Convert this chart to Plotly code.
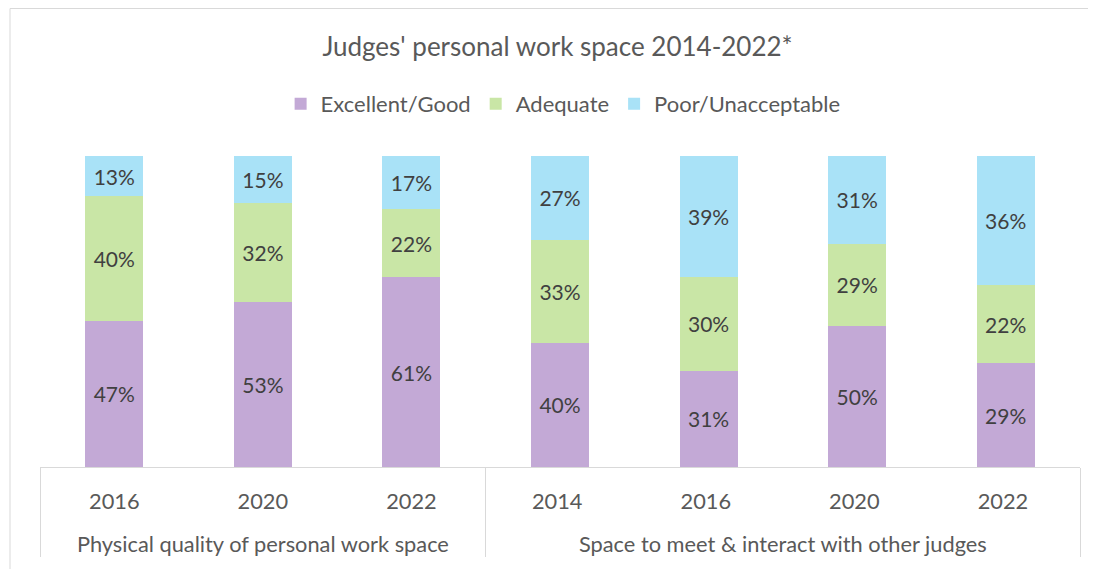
import plotly.graph_objects as go

# data
group_names = ["Physical quality of personal work space", "Space to meet & interact with other judges"]
group_years = [["2016", "2020", "2022"], ["2014", "2016", "2020", "2022"]]

excellent_good = [47, 53, 61, 40, 31, 50, 29]
adequate = [40, 32, 22, 33, 30, 29, 22]
poor_unacceptable = [13, 15, 17, 27, 39, 31, 36]

series_names = ["Excellent/Good", "Adequate", "Poor/Unacceptable"]
series_colors = ["#C3A9D6", "#C9E6A6", "#A9E2F7"]

FONT = "Lato, Open Sans, sans-serif"
TXT = "#595959"

# multicategory x: plotly orders the inner level by first appearance, so the
# second group's years get a trailing space to keep 2014 first inside that group
outer, inner = [], []
for gi, (g, ys) in enumerate(zip(group_names, group_years)):
    for y in ys:
        outer.append("<br>" + g)
        inner.append(y + (" " if gi else ""))

fig = go.Figure()
for name, vals, col in zip(series_names, [excellent_good, adequate, poor_unacceptable], series_colors):
    fig.add_trace(go.Bar(
        x=[outer, inner],
        y=vals,
        name=name,
        marker=dict(color=col, line=dict(width=0)),
        text=[f"{v}%" for v in vals],
        textposition="inside",
        insidetextanchor="middle",
        textfont=dict(size=21, color="#404040", family=FONT),
        hoverinfo="skip",
    ))

fig.update_layout(
    barmode="stack",
    barnorm="percent",
    bargap=0.61,
    width=1096,
    height=569,
    margin=dict(l=32, r=24, t=148, b=110),
    paper_bgcolor="white",
    plot_bgcolor="white",
    font=dict(family=FONT, color=TXT, size=21),
    title=dict(text="Judges' personal work space 2014-2022*", x=0.5014, xanchor="center",
               y=1 - 39 / 569, yanchor="middle", font=dict(size=26, color=TXT, family=FONT)),
    legend=dict(orientation="h", x=0.503, xanchor="center", y=1.167, yanchor="middle",
                font=dict(size=22, color=TXT, family=FONT), traceorder="normal"),
    uniformtext=dict(mode="show", minsize=10),
)

fig.update_xaxes(
    type="multicategory",
    showline=True, linecolor="#D9D9D9", linewidth=1,
    showdividers=True, dividercolor="#D9D9D9", dividerwidth=1,
    ticks="", ticklabelstandoff=15,
    tickfont=dict(size=21.8, color=TXT, family=FONT),
    showgrid=False,
)
fig.update_yaxes(range=[0, 100], visible=False, showgrid=False)

# chart frame
fig.add_shape(type="rect", xref="paper", yref="paper",
              x0=-30 / 1040, x1=1.05, y0=-0.5, y1=(459 - 0.5) / 311,
              line=dict(color="#D9D9D9", width=1), fillcolor="rgba(0,0,0,0)", layer="below")

fig.write_html("out.html")
